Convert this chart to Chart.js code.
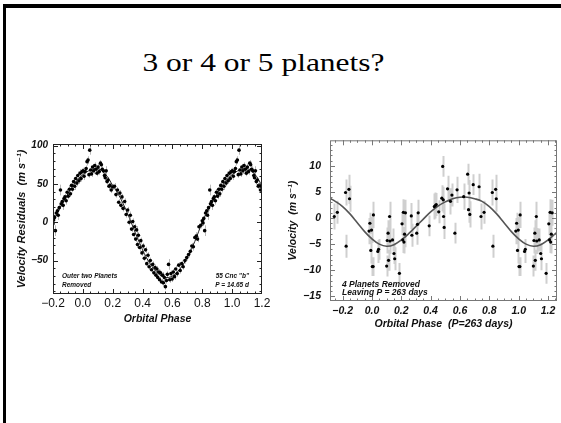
<!DOCTYPE html>
<html><head><meta charset="utf-8">
<script src="https://cdn.jsdelivr.net/npm/chart.js@4"></script>
<style>
html,body{margin:0;padding:0;background:#fff;width:561px;height:423px;overflow:hidden;}
#slide{position:absolute;left:3px;top:4px;width:600px;height:500px;border-top:4px solid #000;border-left:3px solid #000;}
#title{position:absolute;left:0;top:50px;width:527px;text-align:center;font-family:'Liberation Serif','Times New Roman',serif;font-size:26px;line-height:26px;color:#000;white-space:nowrap;transform:scaleX(1.21);transform-origin:263.5px 50%;}
.box{position:absolute;}
canvas{display:block;}
</style></head><body>
<div id="slide"></div>
<div id="title">3 or 4 or 5 planets?</div>
<div class="box" style="left:0;top:130px;width:280px;height:210px"><canvas id="c1" width="280" height="210"></canvas></div>
<div class="box" style="left:280px;top:125px;width:281px;height:215px"><canvas id="c2" width="281" height="215"></canvas></div>
<script>
// ---------------- DATA: left panel (55 Cnc "b", P = 14.65 d) ----------------
const leftPhase = [-0.200,-0.196,-0.190,-0.184,-0.178,-0.170,-0.165,-0.158,-0.150,-0.145,
 -0.138,-0.132,-0.126,-0.120,-0.112,-0.105,-0.098,-0.090,-0.083,-0.076,
 -0.070,-0.062,-0.055,-0.048,-0.040,-0.034,-0.026,-0.018,-0.012,-0.005,
 0.002,0.008,0.015,0.022,0.028,0.035,0.041,0.046,0.052,0.058,
 0.065,0.072,0.080,0.088,0.095,0.102,0.110,0.118,0.124,0.130,
 0.138,0.145,0.150,0.156,0.162,0.168,0.175,0.182,0.190,0.200,
 0.212,0.222,0.232,0.240,0.248,0.255,0.262,0.270,0.280,0.290,
 0.300,0.310,0.318,0.326,0.334,0.340,0.347,0.354,0.360,0.366,
 0.372,0.380,0.388,0.396,0.404,0.412,0.420,0.428,0.436,0.444,
 0.452,0.460,0.468,0.476,0.484,0.490,0.496,0.502,0.508,0.514,
 0.520,0.527,0.534,0.540,0.546,0.553,0.560,0.566,0.574,0.582,
 0.590,0.598,0.606,0.614,0.622,0.632,0.642,0.652,0.662,0.672,
 0.684,0.696,0.708,0.720,0.730,0.740,0.750,0.760,0.768,0.778,
 0.790,0.800,0.805,0.810,0.816,0.822,0.830,0.835,0.842,0.850,
 0.855,0.862,0.868,0.874,0.880,0.888,0.895,0.902,0.910,0.917,
 0.924,0.930,0.938,0.945,0.952,0.960,0.966,0.974,0.982,0.988,
 0.995,1.002,1.008,1.015,1.022,1.028,1.035,1.041,1.046,1.052,
 1.058,1.065,1.072,1.080,1.088,1.095,1.102,1.110,1.118,1.124,
 1.130,1.138,1.145,1.150,1.156,1.162,1.168,1.175,1.182,1.190,
 1.196,1.200];
const leftVel = [-2,3,6,-11,12,15,9,19,42,24,
 27,22,31,33,28,39,34,43,37,48,
 43,53,47,57,51,61,54,64,57,66,
 67,60,66,70,79,81,62,94,68,63,
 72,67,74,69,64,72,66,77,75,69,
 67,61,58,67,53,55,47,48,42,46,
 47,36,42,26,38,22,33,18,27,10,
 16,0,9,-9,1,-16,-6,-22,-10,-29,
 -17,-33,-24,-40,-31,-47,-36,-54,-43,-58,
 -50,-62,-55,-66,-59,-69,-61,-72,-65,-75,
 -66,-78,-69,-79,-72,-84,-76,-68,-55,-75,
 -67,-74,-65,-71,-61,-67,-56,-63,-54,-58,
 -50,-46,-42,-38,-31,-32,-20,-18,-22,-6,
 -4,2,-1,5,-11,12,15,9,19,42,
 24,27,22,31,33,28,39,34,43,37,
 48,43,53,47,57,51,61,54,64,57,
 66,67,60,66,70,79,81,62,94,68,
 63,72,67,74,69,64,72,66,77,75,
 69,67,61,58,67,53,55,47,48,42,
 47,46];
const leftErr = [4,4,4,7,4,4,6,4,7,4,
 4,6,4,4,5,4,4,5,4,5,
 4,4,5,4,4,5,4,5,4,4,
 4,5,4,4,5,5,4,6,4,4,
 4,4,4,4,4,4,4,4,4,4,
 4,5,4,6,4,4,4,4,4,4,
 4,4,4,4,4,5,4,4,4,4,
 4,4,5,4,4,4,4,4,5,4,
 4,5,4,4,4,4,4,4,4,4,
 4,4,4,4,4,4,4,4,4,4,
 4,4,4,4,4,4,4,4,7,4,
 4,4,4,4,4,4,4,4,4,4,
 4,4,4,4,4,5,4,5,4,4,
 4,4,4,4,7,4,4,6,4,7,
 4,4,6,4,4,5,4,4,5,4,
 5,4,4,5,4,4,5,4,5,4,
 4,4,5,4,4,5,5,4,6,4,
 4,4,4,4,4,4,4,4,4,4,
 4,4,5,4,6,4,4,4,4,4,
 4,4];
const leftFitPhase = [-0.2,-0.15,-0.1,-0.05,0.0,0.05,0.1,0.15,0.2,0.25,0.3,0.35,0.4,0.45,0.5,0.55,0.6,0.65,0.7,0.75,0.8,0.85,0.9,0.95,1.0,1.05,1.1,1.15,1.2];
const leftFitVel   = [0,20,37,52,62,68,70,63,48,32,11,-13,-36,-54,-66,-72,-70,-61,-46,-25,0,20,37,52,62,68,70,63,48];
const leftXTicks = [-0.2,0,0.2,0.4,0.6,0.8,1.0,1.2];
const leftXTickLabels = ['\u22120.2','0.0','0.2','0.4','0.6','0.8','1.0','1.2'];
const leftYTicks = [-50,0,50,100];
const leftYTickLabels = ['\u221250','0','50','100'];

// ---------------- DATA: right panel (P = 263 days) ----------------
const rightPhase = [-0.257,-0.236,-0.180,-0.176,-0.157,-0.153,-0.020,-0.014,-0.008,-0.003,
 0.002,0.008,0.010,0.040,0.045,0.100,0.104,0.110,0.113,0.120,
 0.123,0.140,0.150,0.155,0.187,0.205,0.210,0.214,0.218,0.222,
 0.228,0.268,0.272,0.305,0.310,0.315,0.390,0.425,0.432,0.438,
 0.455,0.476,0.482,0.486,0.488,0.492,0.515,0.535,0.545,0.565,
 0.580,0.625,0.652,0.658,0.662,0.667,0.690,0.730,0.743,0.764,
 0.820,0.824,0.843,0.847,0.980,0.986,0.992,0.997,1.002,1.008,
 1.010,1.040,1.045,1.100,1.104,1.110,1.113,1.120,1.123,1.140,
 1.150,1.155,1.187,1.205,1.210,1.214,1.218,1.222,1.228];
const rightVel = [0.3,1.1,4.9,-5.4,5.5,3.7,-2.5,-1.0,-6.2,-2.3,
 -9.3,-9.3,0.6,-6.4,-6.0,-9.2,-4.3,-2.9,-8.1,0.3,
 -4.4,-4.2,-6.8,-7.8,-10.6,-1.1,-4.2,1.1,-4.6,-3.1,
 1.0,0.4,-3.3,-2.9,-1.2,1.0,-1.5,2.2,2.4,2.6,
 1.2,3.8,9.9,3.5,0.3,-1.8,5.6,3.2,4.4,-2.9,
 5.4,4.1,8.4,1.6,4.8,0.7,6.4,6.0,0.3,1.1,
 4.9,-5.4,5.5,3.7,-2.5,-1.0,-6.2,-2.3,-9.3,-9.3,
 0.6,-6.4,-6.0,-9.2,-4.3,-2.9,-8.1,0.3,-4.4,-4.2,
 -6.8,-7.8,-10.6,-1.1,-4.2,1.1,-4.6,-3.1,1.0];
const rightErr = [2.5,2.2,2.5,2.2,2.8,2.5,2.5,2.0,2.5,2.5,
 1.8,1.8,2.5,2.2,2.0,2.0,2.5,2.5,2.0,2.8,
 2.5,2.2,2.0,2.2,2.0,2.2,2.5,2.5,2.2,2.5,
 2.5,2.5,2.2,2.2,2.2,2.5,2.0,2.5,2.5,2.2,
 2.2,2.5,2.0,2.5,2.5,2.2,2.5,2.5,2.2,2.0,
 2.5,2.5,2.0,2.5,2.5,2.5,2.0,2.5,2.5,2.2,
 2.5,2.2,2.8,2.5,2.5,2.0,2.5,2.5,1.8,1.8,
 2.5,2.2,2.0,2.0,2.5,2.5,2.0,2.8,2.5,2.2,
 2.0,2.2,2.0,2.2,2.5,2.5,2.2,2.5,2.5];
const rightFitPhase = [-0.286,-0.25,-0.2,-0.15,-0.1,-0.05,0.0,0.05,0.1,0.15,0.2,0.25,0.3,0.35,0.4,0.45,0.5,0.55,0.6,0.65,0.7,0.75,0.8,0.85,0.9,0.95,1.0,1.05,1.1,1.15,1.2,1.25,1.261];
const rightFitVel   = [3.8,3.2,2.2,0.8,-0.9,-2.6,-4.0,-5.0,-5.4,-5.1,-4.2,-3.0,-1.6,-0.2,1.2,2.3,3.1,3.7,4.0,4.0,3.7,3.2,2.2,0.8,-0.9,-2.6,-4.0,-5.0,-5.4,-5.1,-4.2,-3.0,-2.7];
const rightXTicks = [-0.2,0,0.2,0.4,0.6,0.8,1.0,1.2];
const rightXTickLabels = ['\u22120.2','0.0','0.2','0.4','0.6','0.8','1.0','1.2'];
const rightYTicks = [-15,-10,-5,0,5,10];
const rightYTickLabels = ['\u221215','\u221210','\u22125','0','5','10'];

// ---------------- rendering ----------------
const SANS = "'Liberation Sans', Arial, 'DejaVu Sans', sans-serif";
const bi = size => ({family: SANS, size: size, style: 'italic', weight: 'bold'});
const pts = (xs, ys) => xs.map((x, i) => ({x: x, y: ys[i]}));

const errorBars = {
  id: 'errorBars',
  beforeDatasetsDraw(chart, args, o) {
    const ds = chart.data.datasets.find(d => d.errors);
    if (!ds) return;
    const xs = chart.scales.x, ys = chart.scales.y, ctx = chart.ctx, a = chart.chartArea;
    ctx.save();
    ctx.beginPath(); ctx.rect(a.left, a.top, a.right - a.left, a.bottom - a.top); ctx.clip();
    ctx.strokeStyle = o.color; ctx.lineWidth = o.width;
    ctx.beginPath();
    ds.data.forEach((p, i) => {
      const e = ds.errors[i];
      const x = Math.round(xs.getPixelForValue(p.x)) + 0.5;
      ctx.moveTo(x, ys.getPixelForValue(p.y - e));
      ctx.lineTo(x, ys.getPixelForValue(p.y + e));
    });
    ctx.stroke();
    ctx.restore();
  }
};

const frame = {
  id: 'frame',
  afterDatasetsDraw(chart, args, o) {
    const ctx = chart.ctx, a = chart.chartArea, xs = chart.scales.x, ys = chart.scales.y;
    ctx.save();
    ctx.strokeStyle = o.color; ctx.lineWidth = 1;
    ctx.strokeRect(a.left + 0.5, a.top + 0.5, a.right - a.left - 1, a.bottom - a.top - 1);
    ctx.beginPath();
    const xt = (v, len) => {
      const p = Math.round(xs.getPixelForValue(v)) + 0.5;
      if (p < a.left || p > a.right) return;
      ctx.moveTo(p, a.bottom); ctx.lineTo(p, a.bottom - len);
      ctx.moveTo(p, a.top); ctx.lineTo(p, a.top + len);
    };
    const yt = (v, len) => {
      const p = Math.round(ys.getPixelForValue(v)) + 0.5;
      if (p < a.top || p > a.bottom) return;
      ctx.moveTo(a.left, p); ctx.lineTo(a.left + len, p);
      ctx.moveTo(a.right, p); ctx.lineTo(a.right - len, p);
    };
    for (let k = Math.ceil(xs.min / o.xMinor); k * o.xMinor <= xs.max + 1e-9; k++) xt(k * o.xMinor, o.minorLen);
    for (let k = Math.ceil(ys.min / o.yMinor); k * o.yMinor <= ys.max + 1e-9; k++) yt(k * o.yMinor, o.minorLen);
    o.xMajor.forEach(v => xt(v, o.majorLen));
    o.yMajor.forEach(v => yt(v, o.majorLen));
    ctx.stroke();
    ctx.restore();
  }
};

const notes = {
  id: 'notes',
  afterDraw(chart, args, o) {
    const ctx = chart.ctx, a = chart.chartArea;
    ctx.save();
    ctx.fillStyle = o.color; ctx.font = o.font; ctx.textBaseline = 'alphabetic';
    o.items.forEach(it => {
      ctx.textAlign = it.align;
      const x = it.align === 'right' ? a.right - it.dx : a.left + it.dx;
      ctx.fillText(it.text, x, a.bottom - it.dy);
    });
    ctx.restore();
  }
};

function makeChart(id, cfg) {
  return new Chart(document.getElementById(id), {
    type: 'scatter',
    data: {
      datasets: [
        {data: pts(cfg.px, cfg.py), errors: cfg.err, pointRadius: cfg.pr, pointBackgroundColor: '#000', pointBorderWidth: 0, borderColor: '#000'},
        {type: 'line', data: pts(cfg.fx, cfg.fy), showLine: true, pointRadius: 0, borderColor: cfg.lineColor, borderWidth: cfg.lineWidth, tension: 0.4, fill: false}
      ]
    },
    options: {
      responsive: false, animation: false,
      layout: {padding: cfg.padding},
      plugins: {
        legend: {display: false}, tooltip: {enabled: false},
        errorBars: {color: cfg.errColor, width: cfg.errWidth},
        frame: {color: cfg.frameColor, xMinor: cfg.xMinor, yMinor: cfg.yMinor, xMajor: cfg.xTicks, yMajor: cfg.yTicks, majorLen: 5, minorLen: 2.5},
        notes: {color: '#111', font: cfg.noteFont, items: cfg.notes}
      },
      scales: {
        x: {
          type: 'linear', min: cfg.xmin, max: cfg.xmax,
          grid: {display: false, drawTicks: false}, border: {display: false},
          afterBuildTicks: s => { s.ticks = cfg.xTicks.map(v => ({value: v})); },
          afterFit: s => { s.height = cfg.xh; },
          ticks: {autoSkip: false, maxRotation: 0, padding: cfg.xtp, font: cfg.xTickFont, color: '#111', callback: (v, i) => cfg.xLabels[i]},
          title: {display: true, text: cfg.xTitle, font: cfg.xTitleFont, color: '#111', padding: {top: 0, bottom: cfg.xTitlePad}}
        },
        y: {
          type: 'linear', min: cfg.ymin, max: cfg.ymax,
          grid: {display: false, drawTicks: false}, border: {display: false},
          afterBuildTicks: s => { s.ticks = cfg.yTicks.map(v => ({value: v})); },
          afterFit: s => { s.width = cfg.yw; },
          ticks: {padding: cfg.ytp, font: cfg.yTickFont, color: '#111', callback: (v, i) => cfg.yLabels[i]},
          title: {display: true, text: cfg.yTitle, font: cfg.yTitleFont, color: '#111', padding: {top: cfg.yTitlePad, bottom: 0}}
        }
      }
    },
    plugins: [errorBars, frame, notes]
  });
}

makeChart('c1', {
  px: leftPhase, py: leftVel, err: leftErr, fx: leftFitPhase, fy: leftFitVel,
  pr: 1.8, lineColor: '#222', lineWidth: 1, errColor: '#b8b8b8', errWidth: 1, frameColor: '#222',
  xmin: -0.2, xmax: 1.2, ymin: -93.6, ymax: 102,
  xTicks: leftXTicks, xLabels: leftXTickLabels, yTicks: leftYTicks, yLabels: leftYTickLabels,
  xMinor: 0.05, yMinor: 10,
  padding: {left: 0, top: 14, right: 18, bottom: 0},
  xh: 46, yw: 53, xtp: 2, ytp: 5,
  xTickFont: {family: SANS, size: 12}, yTickFont: bi(10),
  xTitle: 'Orbital Phase', xTitleFont: bi(10.5), xTitlePad: 15,
  yTitle: 'Velocity Residuals  (m s\u207B\u00B9)', yTitleFont: bi(11), yTitlePad: 15,
  noteFont: "italic bold 6.5px " + SANS,
  notes: [
    {text: 'Outer two Planets', align: 'left', dx: 9, dy: 16},
    {text: 'Removed', align: 'left', dx: 9, dy: 7},
    {text: '55 Cnc "b"', align: 'right', dx: 13, dy: 16},
    {text: 'P = 14.65 d', align: 'right', dx: 13, dy: 7}
  ]
});

makeChart('c2', {
  px: rightPhase, py: rightVel, err: rightErr, fx: rightFitPhase, fy: rightFitVel,
  pr: 1.6, lineColor: '#555', lineWidth: 1.6, errColor: '#cfcfcf', errWidth: 2, frameColor: '#777',
  xmin: -0.286, xmax: 1.261, ymin: -15.9, ymax: 14.9,
  xTicks: rightXTicks, xLabels: rightXTickLabels, yTicks: rightYTicks, yLabels: rightYTickLabels,
  xMinor: 0.05, yMinor: 1,
  padding: {left: 0, top: 7, right: 2, bottom: 0},
  xh: 39, yw: 50, xtp: 4, ytp: 9,
  xTickFont: bi(10.5), yTickFont: bi(10.5),
  xTitle: 'Orbital Phase  (P=263 days)', xTitleFont: bi(10.5), xTitlePad: 10,
  yTitle: 'Velocity  (m s\u207B\u00B9)', yTitleFont: bi(10.5), yTitlePad: 7,
  noteFont: "italic bold 8.5px " + SANS,
  notes: [
    {text: '4 Planets Removed', align: 'left', dx: 12, dy: 14},
    {text: 'Leaving P = 263 days', align: 'left', dx: 12, dy: 6.5}
  ]
});
</script>
</body></html>
